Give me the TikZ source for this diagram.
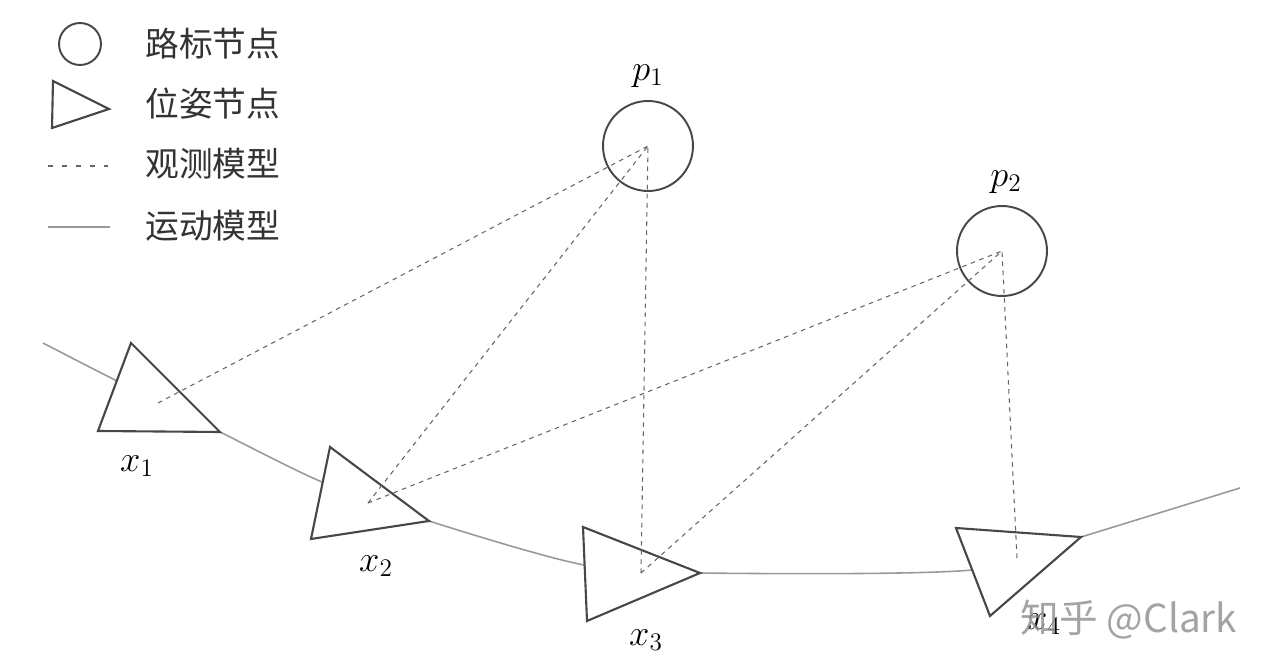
\documentclass[tikz,border=0pt]{standalone}
\usepackage{fontspec}
\newfontfamily\cjk{Noto Sans CJK SC}
\begin{document}
\begin{tikzpicture}[x=0.02cm,y=-0.02cm,
  motion/.style={draw=black!40, line width=0.9pt},
  obs/.style={draw=black!60, line width=0.6pt, dash pattern=on 2.6pt off 2.6pt},
  legobs/.style={draw=black!60, line width=0.6pt, dash pattern=on 3pt off 5pt},
  pose/.style={draw=black!72, line width=1.2pt, fill=white, line join=miter},
  landmark/.style={circle, draw=black!72, line width=1.1pt, minimum size=1.8cm, inner sep=0pt},
  leglandmark/.style={circle, draw=black!72, line width=1.1pt, minimum size=0.84cm, inner sep=0pt},
  lbl/.style={font=\fontsize{21}{25}\selectfont, inner sep=0pt},
  legtext/.style={font=\cjk\fontsize{19.2}{23}\selectfont, anchor=west, inner sep=0pt, text=black!80},
  wm/.style={font=\cjk\fontsize{22}{26}\selectfont, text=black!45, opacity=0.8, inner sep=0pt}]
\useasboundingbox (0,0) rectangle (1269,668);

% motion model curve (behind poses)
\coordinate (m0) at (43,343);
\coordinate (x1in) at (115,380);
\coordinate (x1r) at (220,432);
\coordinate (x2in) at (322,482);
\coordinate (x2r) at (429,521);
\coordinate (x3in) at (584,565);
\coordinate (x3r) at (700,573);
\coordinate (x4in) at (972,570);
\coordinate (x4r) at (1081,537);
\coordinate (mend) at (1240,488);
\draw[motion] plot[smooth, tension=0.5] coordinates {(m0) (x1in) (x1r) (x2in) (x2r) (x3in) (x3r) (x4in) (x4r) (mend)};

% pose triangles
\coordinate (x1a) at (131,343);
\coordinate (x1b) at (98,431);
\draw[pose] (x1a) -- (x1b) -- (x1r) -- cycle;
\coordinate (x2a) at (330,447);
\coordinate (x2b) at (311,539);
\draw[pose] (x2a) -- (x2b) -- (x2r) -- cycle;
\coordinate (x3a) at (583,527);
\coordinate (x3b) at (587,621);
\draw[pose] (x3a) -- (x3b) -- (x3r) -- cycle;
\coordinate (x4a) at (956,528);
\coordinate (x4b) at (990,616);
\draw[pose] (x4a) -- (x4b) -- (x4r) -- cycle;

% landmarks
\node[landmark] (p1) at (648,146) {};
\node[landmark] (p2) at (1002,251) {};

% observation points inside poses
\coordinate (o1) at (158,403);
\coordinate (o2) at (368,503);
\coordinate (o3) at (641,573);
\coordinate (o4) at (1017,558);

% observation model lines
\draw[obs] (o1) -- (p1.center);
\draw[obs] (o2) -- (p1.center);
\draw[obs] (o3) -- (p1.center);
\draw[obs] (o2) -- (p2.center);
\draw[obs] (o3) -- (p2.center);
\draw[obs] (o4) -- (p2.center);

% labels
\node[lbl] (lx1) at (137,466) {$x_1$};
\node[lbl] (lx2) at (376,566) {$x_2$};
\node[lbl] (lx3) at (646,640) {$x_3$};
\node[lbl] (lx4) at (1044,624) {$x_4$};
\node[lbl] (lp1) at (648,76) {$p_1$};
\node[lbl] (lp2) at (1006,182) {$p_2$};

% legend
\node[leglandmark] (legc) at (80,44) {};
\coordinate (lta) at (53,81);
\coordinate (ltb) at (52,128);
\coordinate (ltc) at (109,109);
\draw[pose] (lta) -- (ltb) -- (ltc) -- cycle;
\coordinate (ld1) at (48,166);
\coordinate (ld2) at (108,166);
\draw[legobs] (ld1) -- (ld2);
\coordinate (lm1) at (48,227);
\coordinate (lm2) at (110,227);
\draw[motion] (lm1) -- (lm2);
\node[legtext] (t1) at (145,44) {路标节点};
\node[legtext] (t2) at (145,104) {位姿节点};
\node[legtext] (t3) at (145,164) {观测模型};
\node[legtext] (t4) at (145,226) {运动模型};

% watermark
\node[wm] (wmark) at (1129,620) {知乎 @Clark};
\end{tikzpicture}
\end{document}
